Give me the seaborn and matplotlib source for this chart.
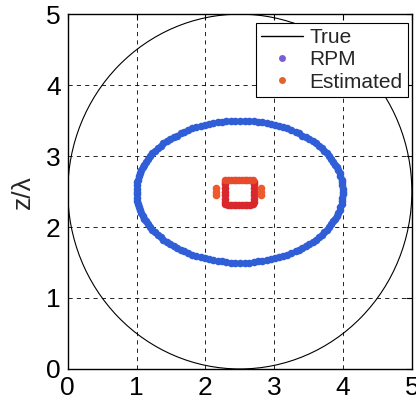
import matplotlib
matplotlib.use("Agg")
import matplotlib.pyplot as plt
from matplotlib.patches import Ellipse, Rectangle
from matplotlib.lines import Line2D
import pandas as pd
import seaborn as sns

# True object outlines: (center x, center y, width, height)
true_circle = (2.5, 2.5, 5.0, 5.0)
true_ellipse = (2.5, 2.5, 3.0, 2.0)
# small inner box: (x0, y0, width, height)
true_box = (2.30, 2.33, 0.39, 0.33)

# RPM reconstruction points
rpm_x = [4.00, 3.99, 3.98, 3.95, 3.91, 3.86, 3.80, 3.73, 3.65, 3.56, 3.46, 3.36, 3.25, 3.13, 3.01, 2.89, 2.76, 2.63,
         2.50, 2.37, 2.24, 2.11, 1.99, 1.87, 1.75, 1.64, 1.54, 1.44, 1.35, 1.27, 1.20, 1.14, 1.09, 1.05, 1.02, 1.01,
         1.00, 1.01, 1.02, 1.05, 1.09, 1.14, 1.20, 1.27, 1.35, 1.44, 1.54, 1.64, 1.75, 1.87, 1.99, 2.11, 2.24, 2.37,
         2.50, 2.63, 2.76, 2.89, 3.01, 3.13, 3.25, 3.36, 3.46, 3.56, 3.65, 3.73, 3.80, 3.86, 3.91, 3.95, 3.98, 3.99,
         4.00, 3.99, 3.96, 3.93, 3.89, 3.83, 3.77, 3.69, 3.61, 3.51, 3.41, 3.31, 3.19, 3.07, 2.95, 2.82, 2.70, 2.57,
         2.43, 2.30, 2.18, 2.05, 1.93, 1.81, 1.69, 1.59, 1.49, 1.39, 1.31, 1.23, 1.17, 1.11, 1.07, 1.04, 1.01, 1.00,
         1.00, 1.01, 1.04, 1.07, 1.11, 1.17, 1.23, 1.31, 1.39, 1.49, 1.59, 1.69, 1.81, 1.93, 2.05, 2.18, 2.30, 2.43,
         2.57, 2.70, 2.82, 2.95, 3.07, 3.19, 3.31, 3.41, 3.51, 3.61, 3.69, 3.77, 3.83, 3.89, 3.93, 3.96, 3.99, 4.00]
rpm_y = [2.50, 2.59, 2.67, 2.76, 2.84, 2.92, 3.00, 3.07, 3.14, 3.21, 3.27, 3.32, 3.37, 3.41, 3.44, 3.47, 3.48, 3.50,
         3.50, 3.50, 3.48, 3.47, 3.44, 3.41, 3.37, 3.32, 3.27, 3.21, 3.14, 3.07, 3.00, 2.92, 2.84, 2.76, 2.67, 2.59,
         2.50, 2.41, 2.33, 2.24, 2.16, 2.08, 2.00, 1.93, 1.86, 1.79, 1.73, 1.68, 1.63, 1.59, 1.56, 1.53, 1.52, 1.50,
         1.50, 1.50, 1.52, 1.53, 1.56, 1.59, 1.63, 1.68, 1.73, 1.79, 1.86, 1.93, 2.00, 2.08, 2.16, 2.24, 2.33, 2.41,
         2.54, 2.63, 2.72, 2.80, 2.88, 2.96, 3.04, 3.11, 3.18, 3.24, 3.29, 3.34, 3.39, 3.42, 3.45, 3.48, 3.49, 3.50,
         3.50, 3.49, 3.48, 3.45, 3.42, 3.39, 3.34, 3.29, 3.24, 3.18, 3.11, 3.04, 2.96, 2.88, 2.80, 2.72, 2.63, 2.54,
         2.46, 2.37, 2.28, 2.20, 2.12, 2.04, 1.96, 1.89, 1.82, 1.76, 1.71, 1.66, 1.61, 1.58, 1.55, 1.52, 1.51, 1.50,
         1.50, 1.51, 1.52, 1.55, 1.58, 1.61, 1.66, 1.71, 1.76, 1.82, 1.89, 1.96, 2.04, 2.12, 2.20, 2.28, 2.37, 2.46]

# Estimated points: upper edge, remaining box edges, side lobes
est_top_x = [2.29, 2.33, 2.37, 2.41, 2.45, 2.49, 2.53, 2.57, 2.61, 2.65, 2.69]
est_top_y = [2.66, 2.67, 2.67, 2.67, 2.67, 2.67, 2.67, 2.67, 2.67, 2.67, 2.66]
est_box_x = [2.29, 2.33, 2.37, 2.41, 2.45, 2.49, 2.53, 2.57, 2.61, 2.65, 2.69,
             2.28, 2.28, 2.28, 2.28, 2.28, 2.28, 2.28,
             2.70, 2.70, 2.70, 2.70, 2.70, 2.70, 2.70]
est_box_y = [2.32, 2.31, 2.31, 2.31, 2.31, 2.31, 2.31, 2.31, 2.31, 2.31, 2.32,
             2.35, 2.40, 2.45, 2.50, 2.55, 2.60, 2.64,
             2.35, 2.40, 2.45, 2.50, 2.55, 2.60, 2.64]
est_side_x = [2.16, 2.16, 2.16, 2.81, 2.81, 2.81]
est_side_y = [2.45, 2.50, 2.55, 2.45, 2.50, 2.55]

ticks = [0, 1, 2, 3, 4, 5]
legend_labels = ["True", "RPM", "Estimated"]

sns.set_style("white")
plt.rcParams["font.family"] = ["Liberation Sans", "DejaVu Sans"]

fig = plt.figure(figsize=(4.16, 4.05), dpi=100)
ax = fig.add_axes([0.163, 0.089, 0.827, 0.876])

# true outlines
ax.add_patch(Ellipse(true_circle[:2], true_circle[2], true_circle[3],
                     fill=False, ec="black", lw=0.8, zorder=2))
ax.add_patch(Ellipse(true_ellipse[:2], true_ellipse[2], true_ellipse[3],
                     fill=False, ec="black", lw=0.8, zorder=2))
ax.add_patch(Rectangle(true_box[:2], true_box[2], true_box[3],
                       fill=False, ec="black", lw=0.8, zorder=2))

rpm = pd.DataFrame({"x": rpm_x, "y": rpm_y})
sns.scatterplot(data=rpm, x="x", y="y", ax=ax, s=30, color="#2f5ed6",
                linewidth=0, zorder=3, legend=False)

sns.scatterplot(x=est_box_x, y=est_box_y, ax=ax, s=30, color="#d8282e",
                linewidth=0, zorder=4, legend=False)
sns.scatterplot(x=est_top_x, y=est_top_y, ax=ax, s=30, color="#e84a2c",
                linewidth=0, zorder=4, legend=False)
sns.scatterplot(x=est_side_x, y=est_side_y, ax=ax, s=30, color="#ee5a2e",
                linewidth=0, zorder=4, legend=False)

ax.set_xlim(0, 5)
ax.set_ylim(0, 5)
ax.set_xticks(ticks)
ax.set_yticks(ticks)
ax.tick_params(direction="in", length=4, width=0.8, labelsize=19, pad=5,
               top=True, right=True, colors="black")
ax.grid(True, color="black", linestyle=(0, (5, 5)), linewidth=0.6)
for sp in ax.spines.values():
    sp.set_color("black")
    sp.set_linewidth(1.0)

ax.set_xlabel("")
ax.set_ylabel("z/λ", fontsize=19, labelpad=8)

handles = [
    Line2D([], [], color="black", lw=1.0),
    Line2D([], [], ls="none", marker="o", ms=5, mec="none", color="#7a5cd6"),
    Line2D([], [], ls="none", marker="o", ms=5, mec="none", color="#e0642a"),
]
leg = ax.legend(handles, legend_labels, loc="upper right",
                bbox_to_anchor=(0.988, 0.975), borderaxespad=0,
                fontsize=15, handlelength=2.0, handletextpad=0.3,
                labelspacing=0.15, borderpad=0.25, fancybox=False,
                framealpha=1, edgecolor="black")
leg.get_frame().set_linewidth(0.8)

fig.savefig("out.png", dpi=100)
